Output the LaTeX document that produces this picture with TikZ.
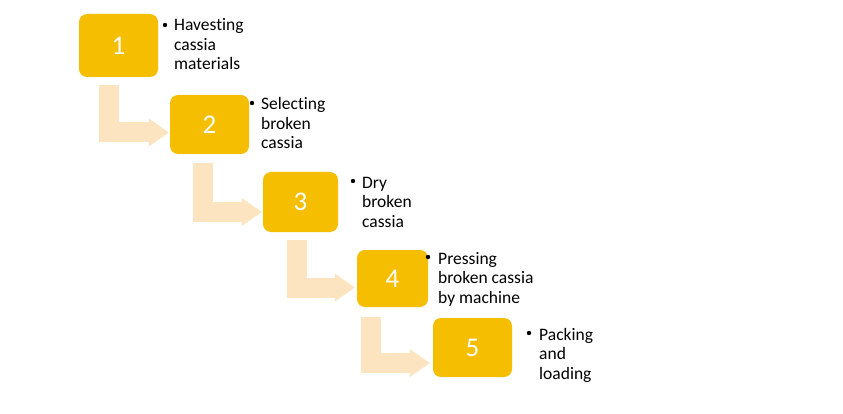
\documentclass[tikz,border=0pt]{standalone}
\usepackage{fontspec}
\setmainfont{Carlito}[Ligatures={NoCommon}]
\usetikzlibrary{arrows.meta,calc}
\definecolor{boxc}{RGB}{245,190,0}
\definecolor{arrc}{RGB}{252,228,192}
\tikzset{
  stepbox/.style={fill=boxc, rounded corners=8pt, text=white, inner sep=0pt,
    font=\fontsize{27}{30}\selectfont, minimum width=78pt, minimum height=60pt},
  label/.style={anchor=base west, align=left, inner sep=0pt,
    font=\fontsize{17.5}{19.5}\selectfont, text=black},
  bent/.style={draw=arrc, line width=20pt,
    -{Triangle[length=20pt,width=28pt,line width=0pt]}},
  dot/.style={fill=black}
}
\begin{document}
\begin{tikzpicture}[x=1pt,y=-1pt]
\useasboundingbox[fill=white] (0,0) rectangle (843,414);
% boxes
\node[stepbox, minimum width=79pt, minimum height=63pt] (b1) at (118.5,45.5) {1};
\node[stepbox, minimum width=79pt, minimum height=59pt] (b2) at (209.5,124.5) {2};
\node[stepbox, minimum width=75pt, minimum height=60pt] (b3) at (300.5,202) {3};
\node[stepbox, minimum width=71pt, minimum height=57pt] (b4) at (392.5,278.5) {4};
\node[stepbox, minimum width=79pt, minimum height=59pt] (b5) at (472.5,347.5) {5};
% bent arrows
\draw[bent] ($(b1.south)+(-10,8)$) |- ($(b2.west)+(-1,8)$);
\draw[bent] ($(b2.south)+(-6.5,9)$) |- ($(b3.west)+(-1,10)$);
\draw[bent] ($(b3.south)+(-3.5,8)$) |- ($(b4.west)+(-2,9)$);
\draw[bent] ($(b4.south)+(-22,10)$) |- ($(b5.west)+(-3,15.5)$);
% labels (anchor = baseline of last line)
\fill[dot] (165,25) circle (2.2);
\node[label] (t1) at (174,70) {Havesting\\cassia\\materials};
\fill[dot] (252,103) circle (2.2);
\node[label] (t2) at (261,149) {Selecting\\broken\\cassia};
\fill[dot] (353,181) circle (2.2);
\node[label] (t3) at (362,227) {Dry\\broken\\cassia};
\fill[dot] (428,257) circle (2.2);
\node[label] (t4) at (438,303) {Pressing\\broken cassia\\by machine};
\fill[dot] (529,333) circle (2.2);
\node[label] (t5) at (539,379) {Packing\\and\\loading};
\end{tikzpicture}
\end{document}
